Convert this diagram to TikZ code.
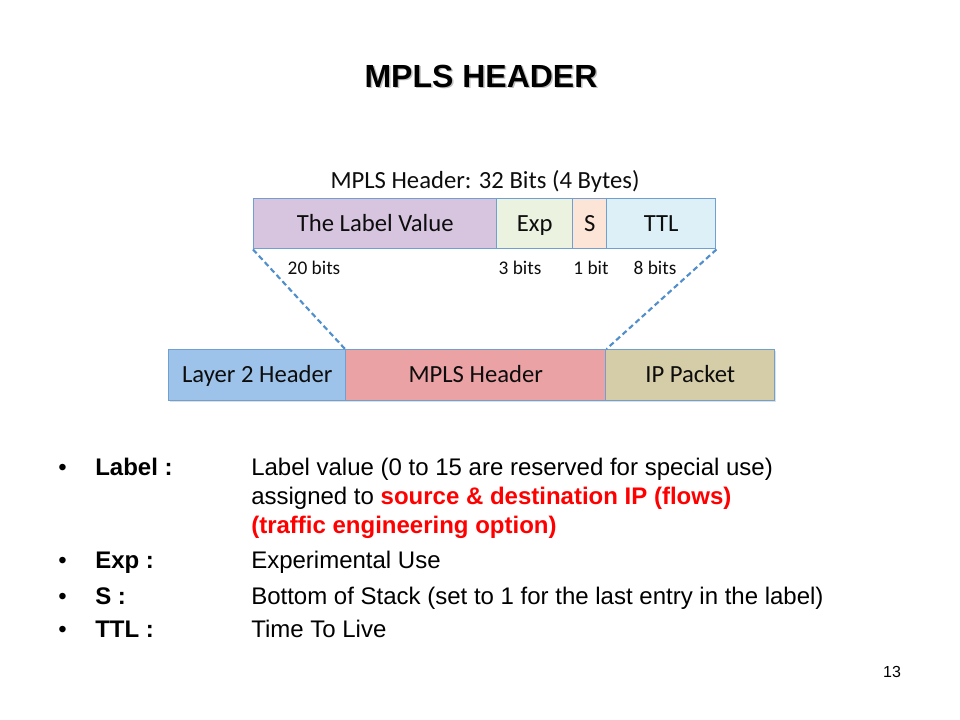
\documentclass[tikz,border=0pt]{standalone}
\usepackage{fontspec}
\setmainfont{Liberation Sans}
\newfontfamily\calib{Carlito}
\usetikzlibrary{shadows}
\definecolor{lilac}{RGB}{215,197,224}
\definecolor{expg}{RGB}{235,242,224}
\definecolor{speach}{RGB}{252,229,214}
\definecolor{ttlb}{RGB}{221,240,248}
\definecolor{bordb}{RGB}{112,160,210}
\definecolor{dashb}{RGB}{80,142,204}
\definecolor{ltwo}{RGB}{157,195,235}
\definecolor{mplsp}{RGB}{235,162,164}
\definecolor{iptan}{RGB}{212,205,167}
\definecolor{redt}{RGB}{255,0,0}
\tikzset{
  field/.style={draw=bordb, line width=1.1pt, inner sep=0pt, anchor=north west,
    minimum height=37.5pt, text height=1.15em, text depth=0em,
    font=\calib\fontsize{18.5}{20}\selectfont, text=black!95},
  pkt/.style={field, minimum height=38.25pt,
    drop shadow={opacity=0.25, shadow xshift=1.2pt, shadow yshift=-1.2pt}},
  bits/.style={font=\calib\fontsize{14.5}{16}\selectfont, text=black!95},
  txt/.style={anchor=base west, inner sep=0pt, font=\fontsize{18}{20}\selectfont},
  bul/.style={anchor=base west, inner sep=0pt, font=\fontsize{18}{20}\selectfont},
  lbl/.style={anchor=base west, inner sep=0pt, font=\bfseries\fontsize{18}{20}\selectfont},
  conn/.style={draw=dashb, line width=1.6pt, dash pattern=on 4pt off 2.5pt},
}
\begin{document}
\begin{tikzpicture}[x=0.75pt, y=-0.75pt]
\useasboundingbox (0,0) rectangle (960,720);
% title with shadow
\node[font=\bfseries\fontsize{24}{28}\selectfont, text=black!25] (titlesh) at (482.5,77.5) {MPLS HEADER};
\node[font=\bfseries\fontsize{24}{28}\selectfont] (title) at (481,76) {MPLS HEADER};
% top header
\node[font=\calib\fontsize{18.5}{20}\selectfont, text=black!95] (hdr) at (485,181) {MPLS Header: 32 Bits (4 Bytes)};
\node[field, fill=lilac, minimum width=182.25pt] (lv) at (253,198) {The Label Value};
\node[field, fill=expg, minimum width=57pt] (exp) at (496,198) {Exp};
\node[field, fill=speach, minimum width=25.5pt] (s) at (572,198) {S};
\node[field, fill=ttlb, minimum width=81.75pt] (ttl) at (606,198) {TTL};
\node[bits] (b20) at (314,268) {20 bits};
\node[bits] (b3) at (520,268) {3 bits};
\node[bits] (b1) at (591,268) {1 bit};
\node[bits] (b8) at (655,268) {8 bits};
% bottom packet
\node[pkt, fill=ltwo, minimum width=132.75pt] (l2) at (168,349) {Layer 2 Header};
\node[pkt, fill=mplsp, minimum width=195pt] (mp) at (345,349) {MPLS Header};
\node[pkt, fill=iptan, minimum width=126.75pt] (ip) at (605,349) {IP Packet};
\draw[conn] (lv.south west) -- (mp.north west);
\draw[conn] (ttl.south east) -- (mp.north east);
% bullets
\node[bul] (d1) at (58,475) {•};
\node[lbl] (k1) at (95,475) {Label :};
\node[txt] (t1) at (251,475) {Label value (0 to 15 are reserved for special use)};
\node[txt] (t1b) at (251,504) {assigned to \textcolor{redt}{\bfseries source \& destination IP (flows)}};
\node[txt, text=redt, font=\bfseries\fontsize{18}{20}\selectfont] (t1c) at (251,533) {(traffic engineering option)};
\node[bul] (d2) at (58,568) {•};
\node[lbl] (k2) at (95,568) {Exp :};
\node[txt] (t2) at (251,568) {Experimental Use};
\node[bul] (d3) at (58,604) {•};
\node[lbl] (k3) at (95,604) {S :};
\node[txt] (t3) at (251,604) {Bottom of Stack (set to 1 for the last entry in the label)};
\node[bul] (d4) at (58,637) {•};
\node[lbl] (k4) at (95,637) {TTL :};
\node[txt] (t4) at (251,637) {Time To Live};
\node[anchor=base, inner sep=0pt, font=\fontsize{12}{14}\selectfont] (pg) at (892,677) {13};
\end{tikzpicture}
\end{document}
